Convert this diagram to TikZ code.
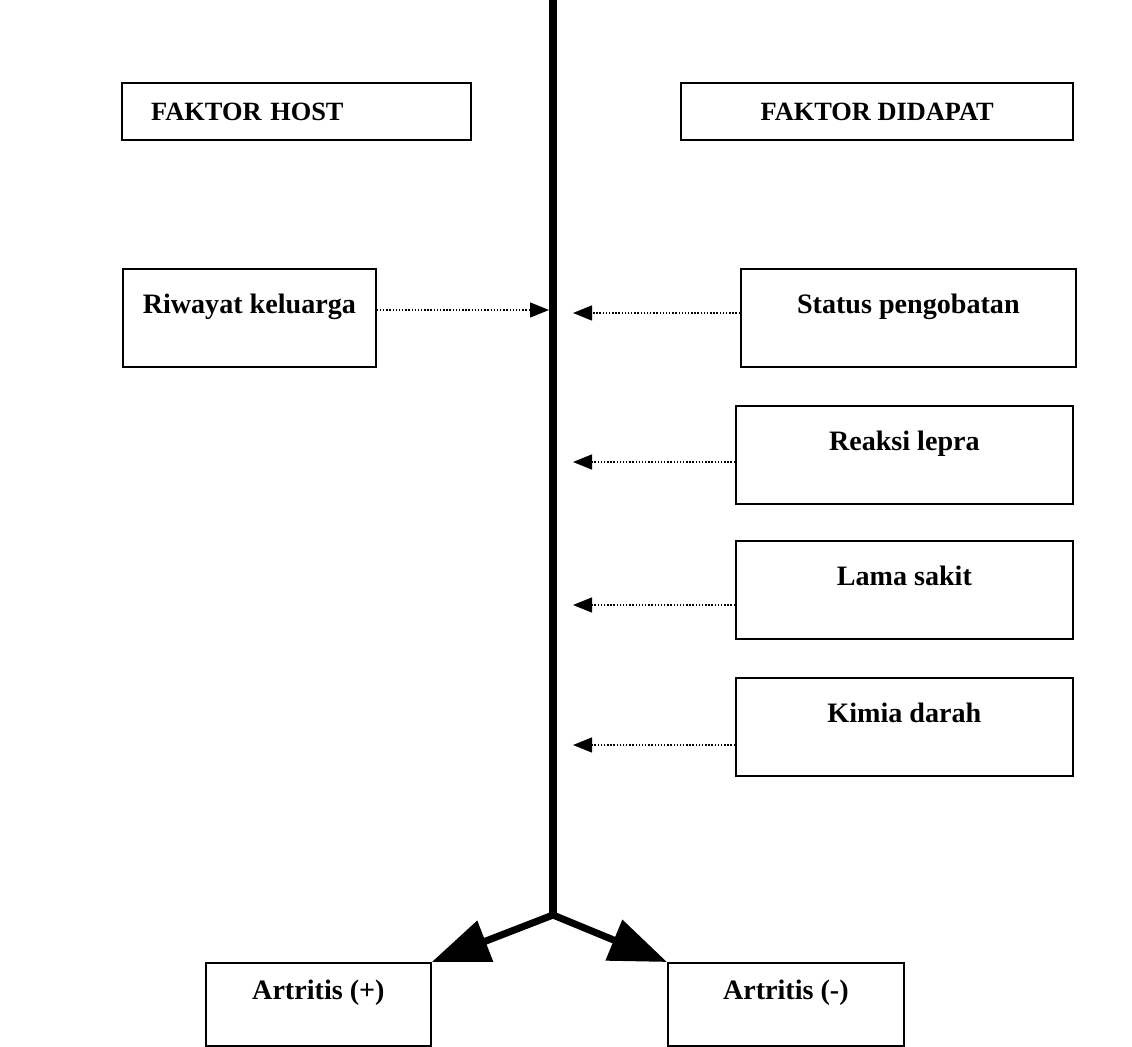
\documentclass[tikz,border=0pt]{standalone}
\usepackage{fontspec}
\setmainfont{Liberation Serif}
\usetikzlibrary{arrows.meta}
\begin{document}
\begin{tikzpicture}[x=0.02cm,y=-0.02cm,
        judul/.style={draw,line width=1.4pt,inner ysep=0pt,anchor=north west,minimum height=1.14cm,font=\fontsize{15}{17}\selectfont\bfseries},
        kotak/.style={draw,line width=1pt,inner sep=0pt,anchor=north west,font=\fontsize{16}{18}\selectfont\bfseries,text height=0.9cm,text depth=1.06cm},
        hasil/.style={kotak,text height=0.74cm,text depth=0.92cm},
        panah/.style={densely dotted,line width=0.8pt,-{Triangle[length=0.38cm,width=0.3cm]}},
        tebal/.style={line width=4pt,-{Triangle[length=1.15cm,width=0.85cm]}}]
        \clip(0,0)rectangle(1132,1047);
        \useasboundingbox(0,0)rectangle(1132,1047);
        \node[judul,inner xsep=0.58cm,text width=5.82cm,align=left](host)at(121,82){FAKTOR HOST};
        \node[judul,minimum width=7.84cm](didapat)at(680,82){FAKTOR DIDAPAT};
        \node[kotak,minimum width=5.06cm](riwayat)at(122,268){Riwayat keluarga};
        \node[kotak,minimum width=6.7cm](status)at(740,268){Status pengobatan};
        \node[kotak,minimum width=6.74cm](reaksi)at(735,405){Reaksi lepra};
        \node[kotak,minimum width=6.74cm](lama)at(735,540){Lama sakit};
        \node[kotak,minimum width=6.74cm](kimia)at(735,677){Kimia darah};
        \node[hasil,minimum width=4.5cm](plus)at(205,962){Artritis (+)};
        \node[hasil,minimum width=4.72cm](minus)at(667,962){Artritis (-)};
        \coordinate(atas)at(553,0);
        \coordinate(cabang)at(553,915);
        \draw[line width=4pt](atas)--(cabang);
        \draw[tebal](cabang)--(plus.north east);
        \draw[tebal](cabang)--(minus.north west);
        \coordinate(t0)at(549,310);
        \coordinate(t1)at(573,313);
        \coordinate(t2)at(573,462);
        \coordinate(t3)at(573,605);
        \coordinate(t4)at(573,745);
        \draw[panah](riwayat.east|-t0)--(t0);
        \draw[panah](status.west|-t1)--(t1);
        \draw[panah](reaksi.west|-t2)--(t2);
        \draw[panah](lama.west|-t3)--(t3);
        \draw[panah](kimia.west|-t4)--(t4);
    \end{tikzpicture}
\end{document}
